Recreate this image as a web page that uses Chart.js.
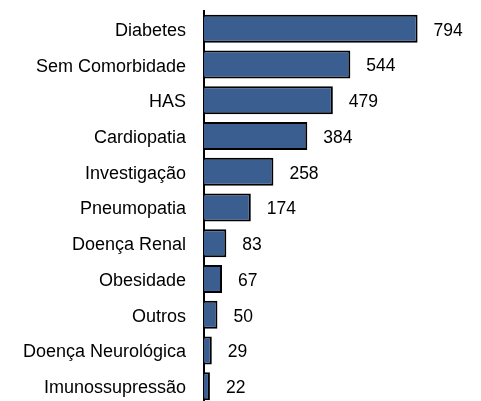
<!DOCTYPE html>
<html>
<head>
<meta charset="utf-8">
<script src="https://cdn.jsdelivr.net/npm/chart.js@4"></script>
<style>
html,body{margin:0;padding:0;background:#fff;overflow:hidden;}
canvas{display:block;}
</style>
</head>
<body>
<canvas id="c" width="481" height="405" style="width:481px;height:405px;"></canvas>
<script>
const categories = ["Diabetes","Sem Comorbidade","HAS","Cardiopatia","Investigação","Pneumopatia","Doença Renal","Obesidade","Outros","Doença Neurológica","Imunossupressão"];
const values = [794,544,479,384,258,174,83,67,50,29,22];

const valueLabels = {
  id:'valueLabels',
  afterDatasetsDraw(chart){
    const ctx = chart.ctx;
    const meta = chart.getDatasetMeta(0);
    ctx.save();
    ctx.font = '17.5px "Liberation Sans", Arial, sans-serif';
    ctx.fillStyle = '#000';
    ctx.textAlign = 'left';
    ctx.textBaseline = 'middle';
    meta.data.forEach((el,i)=>{
      ctx.fillText(String(values[i]), el.x + 16, el.y + 2);
    });
    ctx.restore();
  }
};

new Chart(document.getElementById('c'), {
  type:'bar',
  data:{
    labels:categories,
    datasets:[{
      data:values,
      backgroundColor:'#3A5E90',
      borderColor:'#000',
      borderWidth:2,
      borderSkipped:'start',
      categoryPercentage:0.784,
      barPercentage:1
    }]
  },
  options:{
    indexAxis:'y',
    responsive:false,
    devicePixelRatio:1,
    animation:false,
    layout:{padding:{top:11,bottom:1,left:0,right:8}},
    plugins:{legend:{display:false},tooltip:{enabled:false}},
    scales:{
      x:{display:false,min:0,max:1000},
      y:{
        afterFit(s){ s.width = 204; s.paddingTop = 0; s.paddingBottom = 0; },
        grid:{display:false,drawTicks:false},
        border:{display:true,color:'#000',width:2},
        ticks:{autoSkip:false,padding:18,labelOffset:2,color:'#000',font:{family:'"Liberation Sans", Arial, sans-serif',size:18}}
      }
    }
  },
  plugins:[valueLabels]
});
</script>
</body>
</html>
